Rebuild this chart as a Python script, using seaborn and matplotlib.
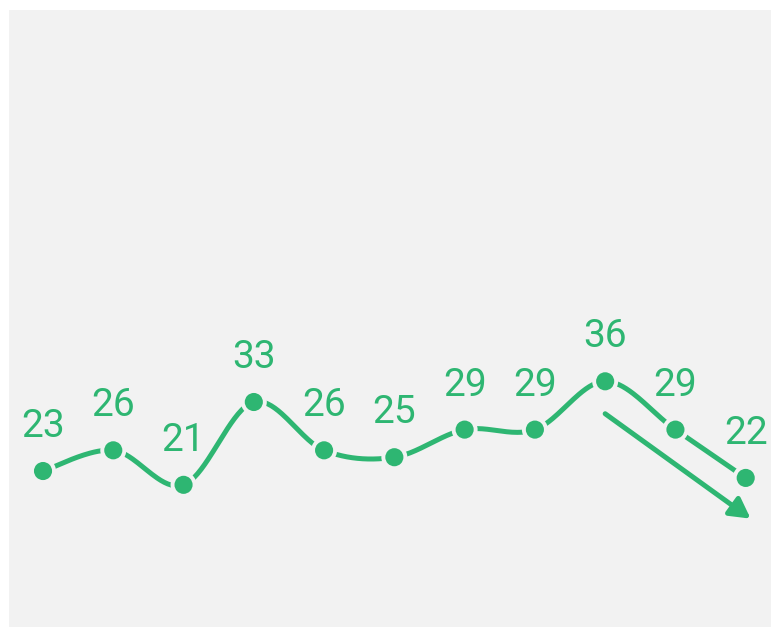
import numpy as np
import pandas as pd
import matplotlib
matplotlib.use("Agg")
import matplotlib.pyplot as plt
import seaborn as sns
from matplotlib.patches import FancyArrowPatch

# Series values, one per period
periods = list(range(11))
values = [23, 26, 21, 33, 26, 25, 29, 29, 36, 29, 22]

GREEN = "#2eb672"
BG = "#f2f2f2"

sns.set_theme(style="white")
plt.rcParams["font.family"] = ["Roboto", "DejaVu Sans"]


def catmull_rom(xs, ys, steps=40):
    """Uniform Catmull-Rom curve through the points (cardinal, tension 0)."""
    xs = np.asarray(xs, float)
    ys = np.asarray(ys, float)
    px = np.concatenate([[xs[0]], xs, [xs[-1]]])
    py = np.concatenate([[ys[0]], ys, [ys[-1]]])
    out_x, out_y = [], []
    t = np.linspace(0, 1, steps, endpoint=False)
    for i in range(1, len(px) - 2):
        for arr, out in ((px, out_x), (py, out_y)):
            p0, p1, p2, p3 = arr[i - 1], arr[i], arr[i + 1], arr[i + 2]
            m1 = (p2 - p0) / 2
            m2 = (p3 - p1) / 2
            h00 = 2 * t**3 - 3 * t**2 + 1
            h10 = t**3 - 2 * t**2 + t
            h01 = -2 * t**3 + 3 * t**2
            h11 = t**3 - t**2
            out.extend(h00 * p1 + h10 * m1 + h01 * p2 + h11 * m2)
    out_x.append(xs[-1])
    out_y.append(ys[-1])
    return np.array(out_x), np.array(out_y)


fig = plt.figure(figsize=(7.71, 6.27), dpi=100)
fig.patch.set_facecolor("white")
ax = fig.add_axes([9 / 771, 0, 762 / 771, 617 / 627])
ax.set_facecolor(BG)

cx, cy = catmull_rom(periods, values)
curve = pd.DataFrame({"x": cx, "y": cy})
points = pd.DataFrame({"x": periods, "y": values})

sns.lineplot(data=curve, x="x", y="y", ax=ax, color=GREEN, lw=3.6,
             sort=False, estimator=None, solid_capstyle="butt", zorder=2)
# background-coloured halo opens a gap in the line around each point
sns.scatterplot(data=points, x="x", y="y", ax=ax, s=350, color=BG,
                edgecolor="none", linewidth=0, zorder=3)
sns.scatterplot(data=points, x="x", y="y", ax=ax, s=170, color=GREEN,
                edgecolor="none", linewidth=0, zorder=4)

for xi, yi in zip(periods, values):
    ax.annotate(f"{yi}", (xi, yi), xytext=(0, 32), textcoords="offset points",
                ha="center", va="center", fontsize=28, fontweight="normal",
                color=GREEN, zorder=5)

# trend arrow from the peak down to the last period
arrow = FancyArrowPatch((periods[8], values[8] - 4.7),
                        (periods[10] + 0.07, values[10] - 5.9),
                        arrowstyle="-|>,head_length=0.6,head_width=0.33",
                        mutation_scale=20, lw=3.6, color=GREEN,
                        shrinkA=0, shrinkB=0, zorder=3)
ax.add_patch(arrow)

ax.set_xlim(-0.484, 10.36)
ax.set_ylim(0.4, 89.8)
ax.set_xlabel("")
ax.set_ylabel("")
ax.set_xticks([])
ax.set_yticks([])
for s in ax.spines.values():
    s.set_visible(False)

fig.savefig("out.png", dpi=100, facecolor=fig.get_facecolor())
